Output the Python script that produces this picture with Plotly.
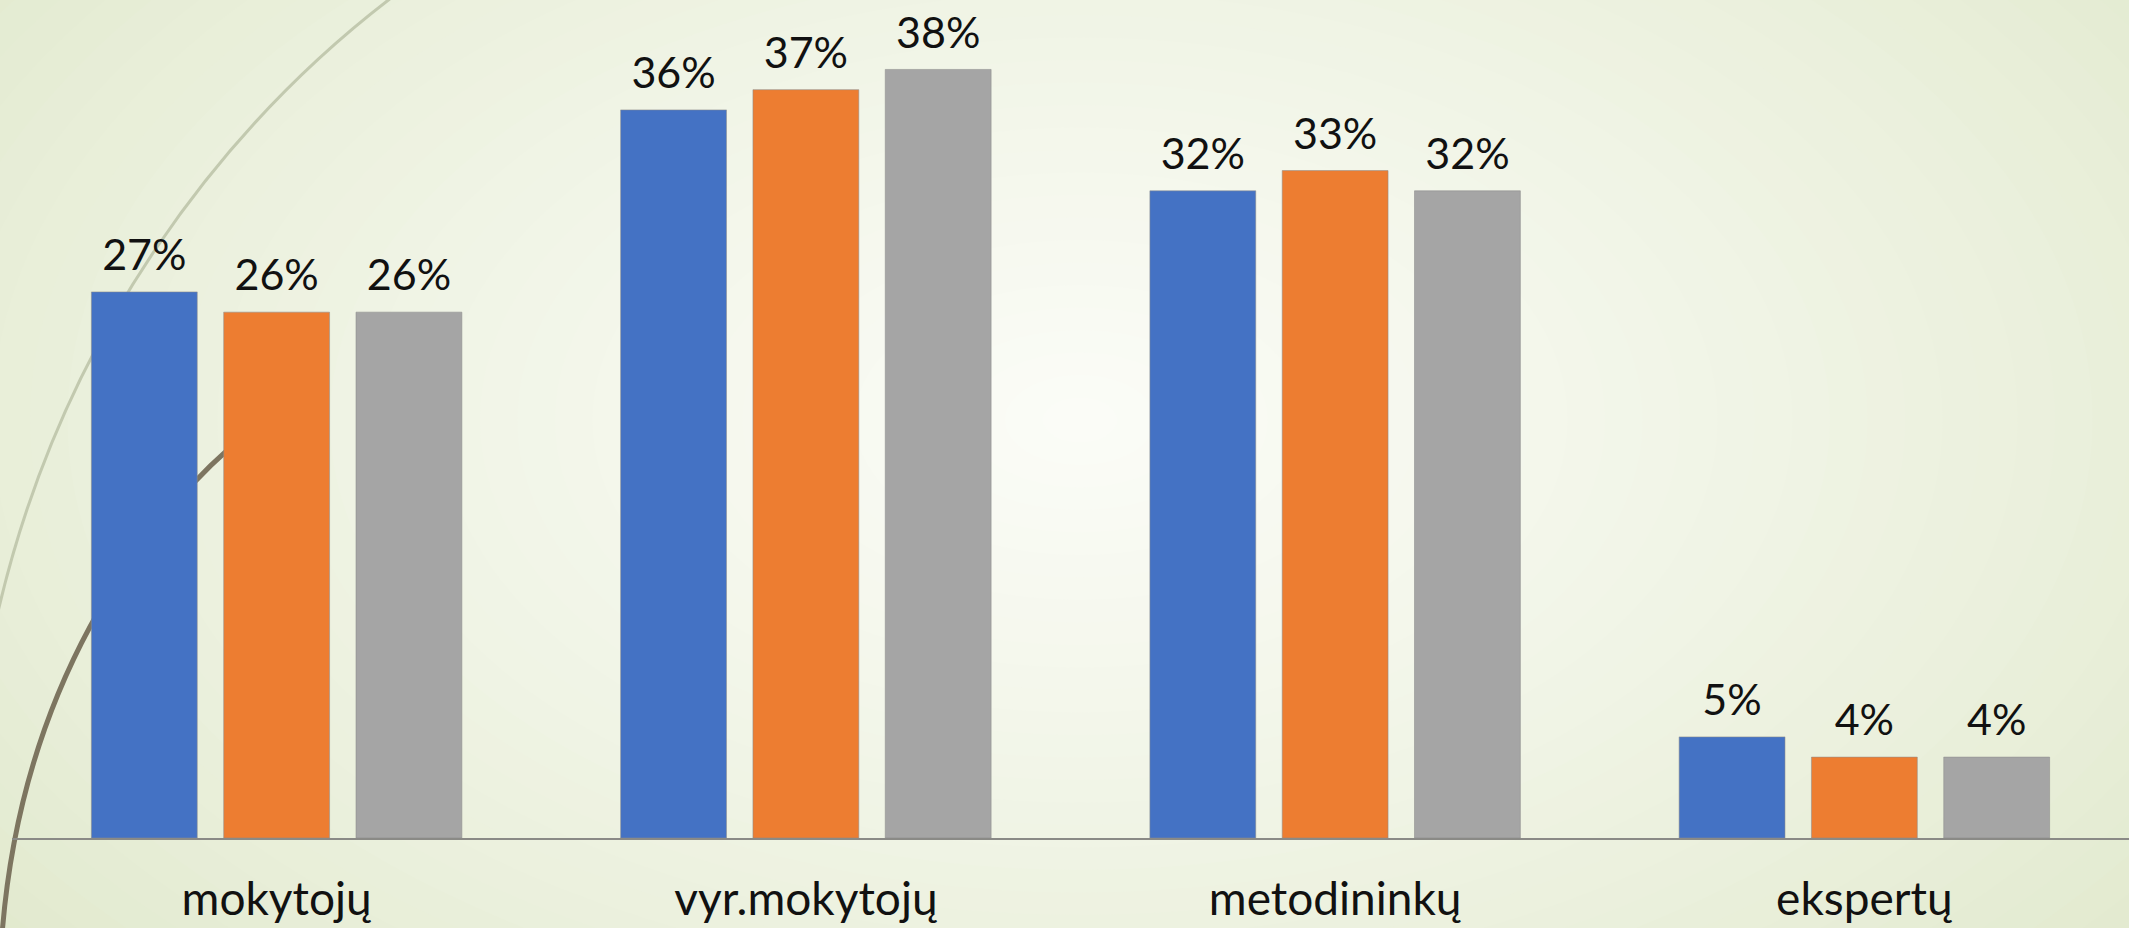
import plotly.graph_objects as go

categories = ["mokytojų", "vyr.mokytojų", "metodininkų", "ekspertų"]
series_a = [0.27, 0.36, 0.32, 0.05]
series_b = [0.26, 0.37, 0.33, 0.04]
series_c = [0.26, 0.38, 0.32, 0.04]
series_names = ["Serija 1", "Serija 2", "Serija 3"]
colors = ["#4472C4", "#ED7D31", "#A5A5A5"]

W, H = 2129, 928
ML, MR, MT, MB = 12, 0, 29, 90
PW, PH = W - ML - MR, H - MT - MB
FONT = "Lato, Calibri, sans-serif"


def px(x):
    return (x - ML) / PW


def py(y):
    return (H - MB - y) / PH


fig = go.Figure()
for i, (name, vals, col) in enumerate(zip(series_names, [series_a, series_b, series_c], colors)):
    fig.add_trace(go.Bar(
        x=categories, y=vals, name=name, offsetgroup=str(i),
        marker=dict(color=col, line=dict(color="rgba(140,140,140,0.55)", width=1)),
    ))
for i, (name, vals) in enumerate(zip(series_names, [series_a, series_b, series_c])):
    fig.add_trace(go.Scatter(
        x=categories, y=vals, name=name, offsetgroup=str(i),
        mode="markers+text", marker=dict(size=16, opacity=0),
        text=[f"{v*100:.0f}%" for v in vals],
        textposition="top center", cliponaxis=False, hoverinfo="skip",
        textfont=dict(family=FONT, size=43, color="#111111"),
    ))

# background radial gradient (decorative)
shapes = []
n = 40
c_out = (222, 231, 200)
c_in = (251, 252, 247)
cx, cy = 1080, 420
for i in range(n):
    k = 1 - i / n
    t = (i / (n - 1)) ** 0.8
    col = tuple(int(round(c_out[j] + (c_in[j] - c_out[j]) * t)) for j in range(3))
    rx, ry = 1500 * k, 900 * k
    shapes.append(dict(type="circle", xref="paper", yref="paper", layer="below",
                       x0=px(cx - rx), x1=px(cx + rx), y0=py(cy + ry), y1=py(cy - ry),
                       fillcolor=f"rgb{col}", line=dict(width=0)))


def path(points):
    p = f"M {px(points[0][0])},{py(points[0][1])}"
    rest = points[1:]
    for i in range(0, len(rest), 3):
        a, b, c = rest[i:i + 3]
        p += f" C {px(a[0])},{py(a[1])} {px(b[0])},{py(b[1])} {px(c[0])},{py(c[1])}"
    return p


# thin light arc
shapes.append(dict(type="path", xref="paper", yref="paper", layer="below",
                   path=path([(395, -5), (230, 120), (60, 330), (-5, 625)]),
                   line=dict(color="rgba(190,196,170,0.9)", width=3)))
# thick brown arc
shapes.append(dict(type="path", xref="paper", yref="paper", layer="below",
                   path=path([(270, 415), (130, 520), (20, 700), (2, 935)]),
                   line=dict(color="#7d7560", width=5)))

fig.update_layout(
    width=W, height=H,
    margin=dict(l=ML, r=MR, t=MT, b=MB),
    paper_bgcolor="rgb(222,231,200)", plot_bgcolor="rgba(0,0,0,0)",
    barmode="group", bargap=0.25, bargroupgap=0.2,
    scattermode="group", scattergap=0.25,
    showlegend=False,
    shapes=shapes,
    xaxis=dict(showline=True, linecolor="#8a8a86", linewidth=2, showgrid=False,
               ticks="", ticklabelstandoff=20,
               tickfont=dict(family=FONT, size=46, color="#111111")),
    yaxis=dict(range=[0, 0.40], visible=False, showgrid=False, zeroline=False),
)

fig.write_html("out.html", config={"displayModeBar": False},
               post_script="document.body.style.margin='0';document.body.style.overflow='hidden';")
